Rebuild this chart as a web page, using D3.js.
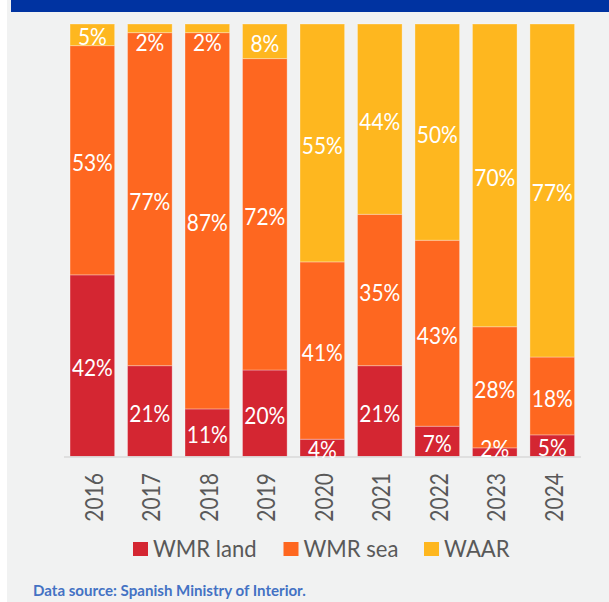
<!DOCTYPE html>
<html>
<head>
<meta charset="utf-8">
<script src="https://cdn.jsdelivr.net/npm/d3@7"></script>
<style>
  html, body { margin: 0; padding: 0; background: #ffffff; }
  svg { display: block; }
</style>
</head>
<body>
<svg id="chart" width="609" height="602"></svg>
<script>
const years = ["2016","2017","2018","2019","2020","2021","2022","2023","2024"];
const wmrLand = [42, 21, 11, 20, 4, 21, 7, 2, 5];
const wmrSea  = [53, 77, 87, 72, 41, 35, 43, 28, 18];
const waar    = [5, 2, 2, 8, 55, 44, 50, 70, 77];
const seriesNames = ["WMR land", "WMR sea", "WAAR"];
const seriesColors = ["#d42632", "#fe6720", "#feb71f"];
const sourceText = "Data source: Spanish Ministry of Interior.";

const svg = d3.select("#chart");
const W = 609, H = 602;
const labelFont = "Lato, 'Open Sans', sans-serif";

// background panel & header band
svg.append("rect").attr("x", 7).attr("y", 0).attr("width", W - 7).attr("height", H).attr("fill", "#f1f2f2");
svg.append("rect").attr("x", 11).attr("y", 0).attr("width", W - 11).attr("height", 12).attr("fill", "#0033a1");

const x = d3.scaleBand().domain(years).range([63.6, 581]).paddingInner(0.224).paddingOuter(0.112);
const y = d3.scaleLinear().domain([0, 100]).range([456.5, 24]);

const rows = years.map((yr, i) => ({ year: yr, "WMR land": wmrLand[i], "WMR sea": wmrSea[i], "WAAR": waar[i] }));
const stack = d3.stack().keys(seriesNames)(rows);

const layers = svg.append("g").selectAll("g").data(stack).join("g")
  .attr("fill", (d, i) => seriesColors[i]);

layers.selectAll("rect").data(d => d).join("rect")
  .attr("x", d => x(d.data.year))
  .attr("width", x.bandwidth())
  .attr("y", d => y(d[1]))
  .attr("height", d => y(d[0]) - y(d[1]))
  .attr("stroke", "rgba(255,255,255,0.3)")
  .attr("stroke-width", 1);

// axis line
svg.append("line").attr("x1", 64).attr("x2", 581).attr("y1", 457).attr("y2", 457)
  .attr("stroke", "#d9d9d9").attr("stroke-width", 1.5);

// value labels (drawn above all bars; very thin segments keep the label inside the bar)
const yTop = y(100), yBot = y(0);
svg.append("g").selectAll("g").data(stack).join("g")
  .selectAll("text").data(d => d).join("text")
  .attr("transform", d => {
    const segH = y(d[0]) - y(d[1]);
    let cy = (y(d[0]) + y(d[1])) / 2 + 1.5;
    if (segH < 16) {
      cy = Math.max(cy, yTop + 18);
      cy = Math.min(cy, yBot - 9);
    }
    return `translate(${x(d.data.year) + x.bandwidth() / 2},${cy}) scale(0.87,1)`;
  })
  .attr("text-anchor", "middle")
  .attr("dominant-baseline", "central")
  .attr("fill", "#ffffff")
  .attr("font-family", labelFont)
  .attr("font-size", 24)
  .text(d => (d[1] - d[0]) + "%");

// year labels (rotated)
svg.append("g").selectAll("text").data(years).join("text")
  .attr("transform", d => `translate(${x(d) + x.bandwidth() / 2 + 0.5},473) rotate(-90) scale(0.84,1)`)
  .attr("text-anchor", "end")
  .attr("dominant-baseline", "central")
  .attr("fill", "#595959")
  .attr("font-family", labelFont)
  .attr("font-size", 25)
  .text(d => d);

// legend
const legendX = [133, 283.5, 424];
const lg = svg.append("g").selectAll("g").data(seriesNames).join("g")
  .attr("transform", (d, i) => `translate(${legendX[i]},542)`);
lg.append("rect").attr("width", 15).attr("height", 14).attr("fill", (d, i) => seriesColors[i]);
lg.append("text").attr("transform", "translate(20,14.5) scale(0.92,1)")
  .attr("fill", "#595959").attr("font-family", labelFont).attr("font-size", 24)
  .text(d => d);

// source
svg.append("text").attr("transform", "translate(33,596) scale(1.04,1)")
  .attr("fill", "#4472c4").attr("font-family", labelFont)
  .attr("font-weight", "bold").attr("font-size", 14.5)
  .text(sourceText);
</script>
</body>
</html>
